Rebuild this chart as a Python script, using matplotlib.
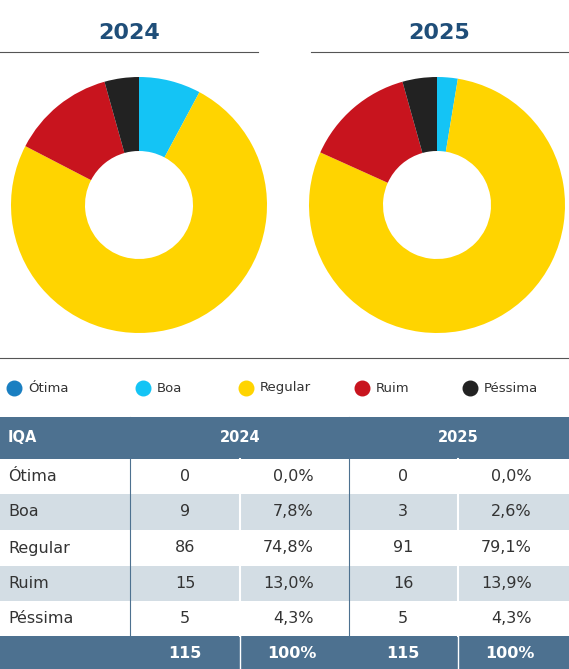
import matplotlib.pyplot as plt
from matplotlib.patches import Rectangle

categories = ["Ótima", "Boa", "Regular", "Ruim", "Péssima"]
counts_2024 = [0, 9, 86, 15, 5]
pct_2024 = ["0,0%", "7,8%", "74,8%", "13,0%", "4,3%"]
counts_2025 = [0, 3, 91, 16, 5]
pct_2025 = ["0,0%", "2,6%", "79,1%", "13,9%", "4,3%"]
totals = ["115", "100%", "115", "100%"]
years = ["2024", "2025"]
colors = ["#1a7fc1", "#14c4f5", "#ffd400", "#c8141e", "#222222"]

W, H = 569, 669
fig = plt.figure(figsize=(W/100, H/100), dpi=100)
ax = fig.add_axes([0, 0, 1, 1])
ax.set_xlim(0, W); ax.set_ylim(0, H); ax.axis("off")
Y = lambda y: H - y
title_c = "#1f4e79"

for (cx, yr, vals, lx0, lx1) in [(139, years[0], counts_2024, 0, 258), (437, years[1], counts_2025, 311, 568)]:
    ax.text((lx0+lx1)/2, Y(33), yr, ha="center", va="center", fontsize=16, fontweight="bold", color=title_c)
    ax.plot([lx0, lx1], [Y(52), Y(52)], color="#555555", lw=0.8)
    ax.pie(vals, colors=colors, center=(cx, Y(205)), radius=128, startangle=90, counterclock=False,
           wedgeprops=dict(width=74, linewidth=0), frame=True)
ax.set_xlim(0, W); ax.set_ylim(0, H); ax.set_aspect("auto"); ax.axis("off")
ax.plot([0, 568], [Y(358), Y(358)], color="#555555", lw=0.8)

lx = [14, 143, 246, 362, 470]
for x, c, n in zip(lx, colors, categories):
    ax.scatter([x], [Y(388)], s=110, color=c)
    ax.text(x+14, Y(388), n, va="center", fontsize=9.5, color="#333333")

hdr = "#4d7190"
ax.add_patch(Rectangle((0, Y(459)), W, 42, color=hdr, lw=0))
ax.add_patch(Rectangle((0, Y(669)), W, 33, color=hdr, lw=0))
rows = [(459, 494), (494, 530), (530, 566), (566, 601), (601, 636)]
for i, (a, b) in enumerate(rows):
    if i % 2 == 1:
        ax.add_patch(Rectangle((0, Y(b)), W, b-a, color="#d3dde4", lw=0))
for x, c in [(130, "#4d7190"), (349, "#4d7190")]:
    ax.plot([x, x], [Y(417), Y(669)], color=c, lw=0.8)
for x in [240, 458]:
    ax.plot([x, x], [Y(459), Y(636)], color="white", lw=1.5)
    ax.plot([x, x], [Y(636), Y(669)], color="white", lw=1.0)
ax.text(8, Y(438), "IQA", va="center", fontsize=10.5, fontweight="bold", color="white")
ax.text(240, Y(438), years[0], ha="center", va="center", fontsize=10.5, fontweight="bold", color="white")
ax.text(458, Y(438), years[1], ha="center", va="center", fontsize=10.5, fontweight="bold", color="white")
tc = "#333333"
for i, (a, b) in enumerate(rows):
    yc = Y((a+b)/2)
    ax.text(8, yc, categories[i], va="center", fontsize=11.5, color=tc)
    ax.text(185, yc, str(counts_2024[i]), ha="center", va="center", fontsize=11.5, color=tc)
    ax.text(314, yc, pct_2024[i], ha="right", va="center", fontsize=11.5, color=tc)
    ax.text(403, yc, str(counts_2025[i]), ha="center", va="center", fontsize=11.5, color=tc)
    ax.text(532, yc, pct_2025[i], ha="right", va="center", fontsize=11.5, color=tc)
yc = Y(654)
for x, t, ha in [(185, totals[0], "center"), (317, totals[1], "right"), (403, totals[2], "center"), (535, totals[3], "right")]:
    ax.text(x, yc, t, ha=ha, va="center", fontsize=11.5, fontweight="bold", color="white")

fig.savefig("out.png", dpi=100)
